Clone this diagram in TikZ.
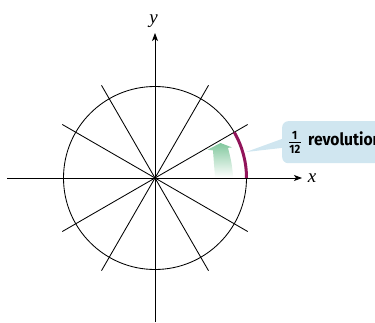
\documentclass[tikz,border=0pt]{standalone}
\usepackage{fontspec}
\setmainfont{Liberation Serif}
\newfontfamily\labfont{Fira Sans}[FakeStretch=0.92]
\usetikzlibrary{arrows.meta,calc}
\definecolor{boxblue}{RGB}{208,230,240}
\definecolor{arcred}{RGB}{145,20,90}
\definecolor{mint}{RGB}{130,200,158}
\begin{document}
\begin{tikzpicture}[x=1pt,y=1pt,
  thinline/.style={line width=0.85pt},
  axisline/.style={line width=0.9pt,-{Stealth[length=8pt,width=6pt,inset=2pt]}},
  axislabel/.style={font=\itshape\fontsize{19}{19}\selectfont, inner sep=0pt},
  labtext/.style={font=\labfont\bfseries\fontsize{17}{17}\selectfont, inner sep=0pt, anchor=base west},
  fractext/.style={font=\labfont\bfseries\fontsize{12}{12}\selectfont, inner sep=0pt, anchor=base}]
\useasboundingbox (0,0) rectangle (375,322);
\clip (0,0) rectangle (375,322);
\coordinate (O) at (155,144);
% circle
\node[circle, draw, thinline, minimum size=183pt, inner sep=0pt] (C) at (O) {};
% radial lines
\foreach \a in {30,60,120,150}
  \draw[thinline] ($(O)+(\a:107)$) -- ($(O)+(\a+180:107)$);
% green curved arrow
\path[top color=mint, bottom color=white]
  (215,144.5) .. controls (213.6,158) .. (213,171.6) -- (207.5,172.2) -- (220.5,179)
  -- (232,174.6) -- (228,174.2) .. controls (231.5,160) .. (233.3,144.5) -- cycle;
% magenta arc
\draw[arcred, line width=3pt] ($(O)+(0:91.5)$) arc[start angle=0, end angle=30, radius=91.5];
% axes
\coordinate (xl) at (7,144);
\coordinate (xr) at (302,144);
\coordinate (yb) at (155,0);
\coordinate (yt) at (155,289);
\draw[axisline] (xl) -- (xr);
\draw[axisline] (yb) -- (yt);
\node[axislabel, anchor=base] (xlab) at (312,139.5) {x};
\node[axislabel, anchor=base] (ylab) at (153.5,298.5) {y};
% callout
\node[fill=boxblue, rounded corners=6pt, minimum width=118pt, minimum height=42pt,
      inner sep=0pt, anchor=north west] (box) at (282,201) {};
\coordinate (tip) at (246,170);
\fill[boxblue] (tip) -- (290,186) -- (290,175) -- cycle;
\node[fractext] (one) at (294.7,182.7) {1};
\node[fractext] (twelve) at (294.9,168.7) {12};
\draw[line width=1.3pt] (289,179.7) -- (300.7,179.7);
\node[labtext] (rev) at (308,176.7) {revolution};
\end{tikzpicture}
\end{document}
